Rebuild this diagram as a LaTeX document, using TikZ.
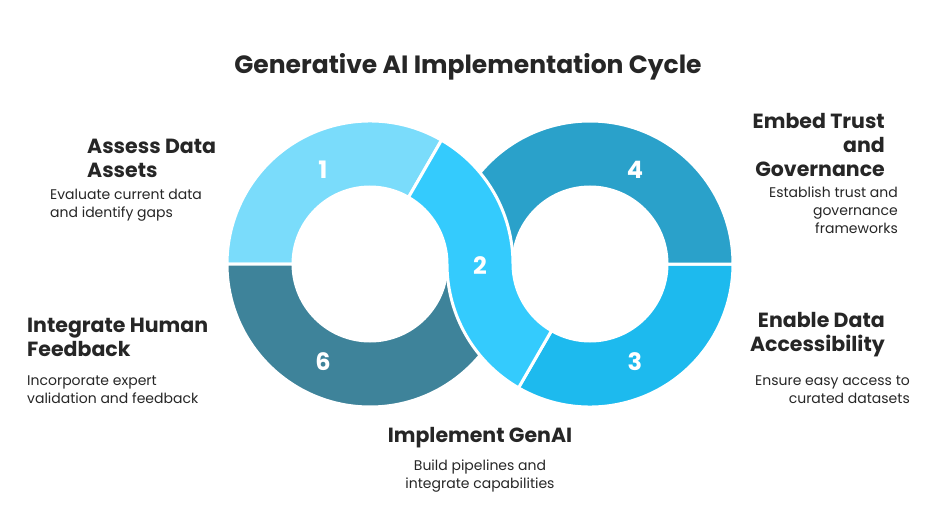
\documentclass[tikz,border=0pt]{standalone}
\usepackage{fontspec}
\setmainfont{Poppins}
\usetikzlibrary{positioning, calc}
\definecolor{segone}{RGB}{122,220,251}
\definecolor{segtwo}{RGB}{52,203,253}
\definecolor{segthree}{RGB}{29,186,238}
\definecolor{segfour}{RGB}{42,161,202}
\definecolor{segsix}{RGB}{62,131,154}
\definecolor{ink}{RGB}{38,38,38}

\begin{document}
\begin{tikzpicture}[x=1pt, y=1pt,
    seg/.style={draw=white, line width=3pt, line join=round},
    num/.style={text=white, font=\fontsize{24}{24}\selectfont\bfseries},
    head/.style={text=ink, inner sep=0pt, font=\fontsize{20.5}{24}\selectfont\bfseries},
    desc/.style={text=ink, inner sep=0pt, font=\fontsize{14}{18}\selectfont}]
    \useasboundingbox (0,0) rectangle (948,515);
    \coordinate (L) at (370,251);
    \coordinate (R) at (590,251);
    
    % rings
    \filldraw[seg, fill=segone] ($(L)+(60:143pt)$) arc[start angle=60, end angle=180, radius=143pt] -- ($(L)+(180:77pt)$) arc[start angle=180, end angle=60, radius=77pt] -- cycle;
    \filldraw[seg, fill=segsix] ($(L)+(180:143pt)$) arc[start angle=180, end angle=360, radius=143pt] -- ($(L)+(0:77pt)$) arc[start angle=360, end angle=180, radius=77pt] -- cycle;
    \filldraw[seg, fill=segthree] ($(R)+(240:143pt)$) arc[start angle=240, end angle=360, radius=143pt] -- ($(R)+(0:77pt)$) arc[start angle=360, end angle=240, radius=77pt] -- cycle;
    \filldraw[seg, fill=segfour] ($(R)+(0:143pt)$) arc[start angle=0, end angle=180, radius=143pt] -- ($(R)+(180:77pt)$) arc[start angle=180, end angle=0, radius=77pt] -- cycle;
    % crossing band
    \filldraw[seg, fill=segtwo] ($(L)+(60:143pt)$) arc[start angle=60, end angle=0, radius=143pt] arc[start angle=180, end angle=240, radius=77pt] -- ($(R)+(240:143pt)$) arc[start angle=240, end angle=180, radius=143pt] arc[start angle=0, end angle=60, radius=77pt] -- cycle;
    
    \node[num] (s1) at (323,345) {1};
    \node[num] (s2) at (480,249) {2};
    \node[num] (s3) at (635,153) {3};
    \node[num] (s4) at (635,345) {4};
    \node[num] (s6) at (323,153) {6};
    
    \node[text=ink, font=\fontsize{25}{25}\selectfont\bfseries] (title) at (468,448) {Generative AI Implementation Cycle};
    
    \node[head, anchor=north west, align=left] (assess) at (87,376) {Assess Data\\Assets};
    \node[desc, anchor=north west, align=left] (assessd) at (50,326) {Evaluate current data\\and identify gaps};
    \node[head, anchor=north west, align=left] (human) at (27,197) {Integrate Human\\Feedback};
    \node[desc, anchor=north west, align=left] (humand) at (27,139) {Incorporate expert\\validation and feedback};
    \node[head, anchor=north east, align=right] (trust) at (885,402) {Embed Trust\\and\\Governance};
    \node[desc, anchor=north east, align=right] (trustd) at (898,328) {Establish trust and\\governance\\frameworks};
    \node[head, anchor=north east, align=right] (access) at (885,203) {Enable Data\\Accessibility};
    \node[desc, anchor=north east, align=right] (accessd) at (910,139) {Ensure easy access to\\curated datasets};
    \node[head, anchor=north] (genai) at (480,88) {Implement GenAI};
    \node[desc, anchor=north, align=center] (genaid) at (480,55) {Build pipelines and\\integrate capabilities};
\end{tikzpicture}
\end{document}
